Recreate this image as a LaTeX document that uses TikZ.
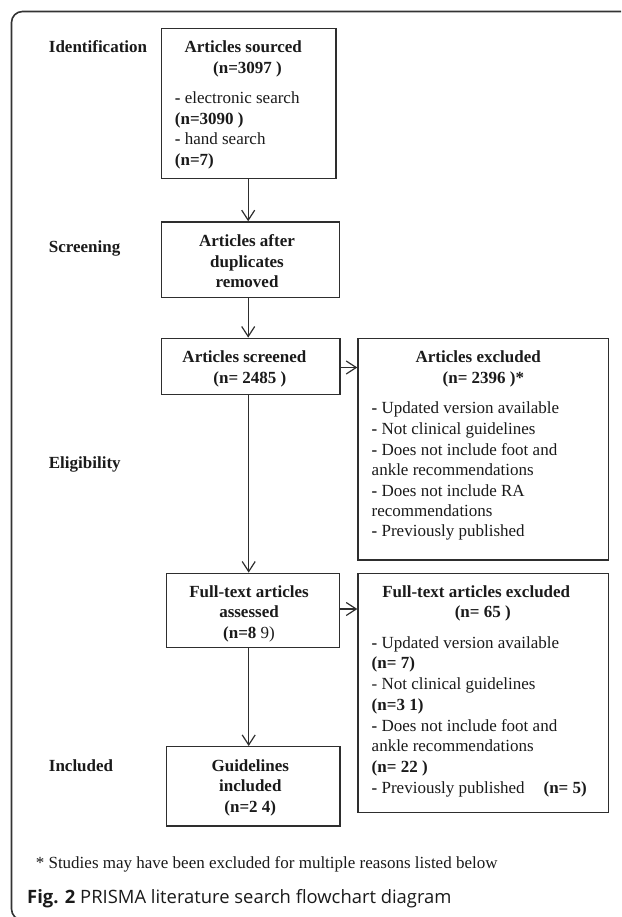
\documentclass[tikz,border=0pt]{standalone}
\usepackage{fontspec}
\setmainfont{Liberation Serif}
\newfontfamily\capfont{Open Sans}
\usetikzlibrary{arrows.meta,calc}
\definecolor{linec}{HTML}{2E2E2E}
\definecolor{framec}{HTML}{333333}
\definecolor{textc}{HTML}{1A1A1A}
\begin{document}
\begin{tikzpicture}[x=1pt,y=-1pt,
  box/.style={draw=linec, line width=1.4pt, inner sep=0pt},
  arr/.style={draw=linec, line width=1.2pt, -{Straight Barb[length=10pt,width=13pt,line width=1.2pt]}},
  t/.style={inner sep=0pt, anchor=base, text=textc, font=\fontsize{17}{21}\selectfont},
  tb/.style={t, font=\fontsize{17}{21}\selectfont\bfseries},
  tl/.style={t, anchor=base west},
  lab/.style={tb, anchor=base west}
]
\useasboundingbox (0,0) rectangle (621,917);
\begin{scope}
\clip (0,0) rectangle (621,917);
\draw[framec, line width=1.6pt, rounded corners=11pt] (11.5,11.5) rectangle (700,920);
\end{scope}

% stage labels
\node[lab] (lid) at (48.7,52.2) {Identification};
\node[lab] (lsc) at (48.7,252.2) {Screening};
\node[lab] (lel) at (48.7,468.8) {Eligibility};
\node[lab] (lin) at (48.7,771.2) {Included};

% boxes
\node[box, minimum width=174.2pt, minimum height=150.4pt] (b1) at (248.7,103.5) {};
\node[box, minimum width=177.8pt, minimum height=75.7pt] (b2) at (250.5,259.85) {};
\node[box, minimum width=178.2pt, minimum height=56.2pt] (b3) at (250.7,366.4) {};
\node[box, minimum width=250.7pt, minimum height=221.7pt] (b4) at (483.35,449.15) {};
\node[box, minimum width=172.7pt, minimum height=74pt] (b5) at (253.05,610.3) {};
\node[box, minimum width=250.7pt, minimum height=239.4pt] (b6) at (483.35,693) {};
\node[box, minimum width=173.1pt, minimum height=79.3pt] (b7) at (253.25,786.35) {};

% box 1 text
\node[tb] (t11) at (243.2,52.2) {Articles sourced};
\node[tb] (t12) at (247.5,73.2) {(n=3097 )};
\node[tl] (t13) at (174.7,103.8) {{\bfseries -} electronic search};
\node[tl, font=\fontsize{17}{21}\selectfont\bfseries] (t14) at (174.7,124.5) {(n=3090 )};
\node[tl] (t15) at (174.7,144.8) {{\bfseries -} hand search};
\node[tl, font=\fontsize{17}{21}\selectfont\bfseries] (t16) at (174.7,165.5) {(n=7)};

% box 2 text
\node[tb] (t21) at (247,246.2) {Articles after};
\node[tb] (t22) at (247,267.2) {duplicates};
\node[tb] (t23) at (247,287.2) {removed};

% box 3 text
\node[tb] (t31) at (244.4,362.2) {Articles screened};
\node[tb] (t32) at (249.9,383.2) {(n= 2485 )};

% box 4 text
\node[tb] (t41) at (478.2,362.2) {Articles excluded};
\node[tb] (t42) at (483.4,383.2) {(n= 2396 )*};
\node[tl] (t43) at (371.5,413.8) {{\bfseries -} Updated version available};
\node[tl] (t44) at (371.5,434.5) {{\bfseries -} Not clinical guidelines};
\node[tl] (t45) at (371.5,455.5) {{\bfseries -} Does not include foot and};
\node[tl] (t46) at (371.5,475.5) {ankle recommendations};
\node[tl] (t47) at (371.5,496.2) {{\bfseries -} Does not include RA};
\node[tl] (t48) at (371.5,516.5) {recommendations};
\node[tl] (t49) at (371.5,536.5) {{\bfseries -} Previously published};

% box 5 text
\node[tb] (t51) at (249,597.2) {Full-text articles};
\node[tb] (t52) at (249,617.8) {assessed};
\node[t] (t53) at (249,638.8) {\textbf{(n=8} 9)};

% box 6 text
\node[tb] (t61) at (476.2,597.2) {Full-text articles excluded};
\node[tb] (t62) at (482.8,617.8) {(n= 65 )};
\node[tl] (t63) at (371.5,648.8) {{\bfseries -} Updated version available};
\node[tl, font=\fontsize{17}{21}\selectfont\bfseries] (t64) at (371.5,668.8) {(n= 7)};
\node[tl] (t65) at (371.5,689.8) {- Not clinical guidelines};
\node[tl, font=\fontsize{17}{21}\selectfont\bfseries] (t66) at (371.5,710.5) {(n=3 1)};
\node[tl] (t67) at (371.5,731.2) {{\bfseries -} Does not include foot and};
\node[tl] (t68) at (371.5,751.5) {ankle recommendations};
\node[tl, font=\fontsize{17}{21}\selectfont\bfseries] (t69) at (371.5,772.2) {(n= 22 )};
\node[tl] (t6a) at (371.5,793.2) {{\bfseries -} Previously published};
\node[tl, font=\fontsize{17}{21}\selectfont\bfseries] (t6b) at (543.4,793.2) {(n= 5)};

% box 7 text
\node[tb] (t71) at (250.3,771.2) {Guidelines};
\node[tb] (t72) at (250.3,791.5) {included};
\node[tb] (t73) at (250.3,812.8) {(n=2 4)};

% footnote and caption
\node[tl] (fn) at (35.6,868.2) {* Studies may have been excluded for multiple reasons listed below};
\node[inner sep=0pt, anchor=base west, text=textc, font=\capfont\fontsize{18.4}{22}\selectfont] (cap) at (27,903.3) {\textbf{Fig. 2} PRISMA literature search flowchart diagram};

% connectors
\coordinate (v1) at (248.2,0);
\coordinate (v2) at (248.7,0);
\coordinate (h1) at (0,367.5);
\coordinate (h2) at (0,609);
\draw[arr] (b1.south -| v1) -- (b2.north -| v1);
\draw[arr] (b2.south -| v1) -- (b3.north -| v1);
\draw[arr] (b3.south -| v2) -- (b5.north -| v2);
\draw[arr] (b5.south -| v2) -- (b7.north -| v2);
\draw[arr] (b3.east |- h1) -- (b4.west |- h1);
\draw[arr] (b5.east |- h2) -- (b6.west |- h2);
\end{tikzpicture}
\end{document}
